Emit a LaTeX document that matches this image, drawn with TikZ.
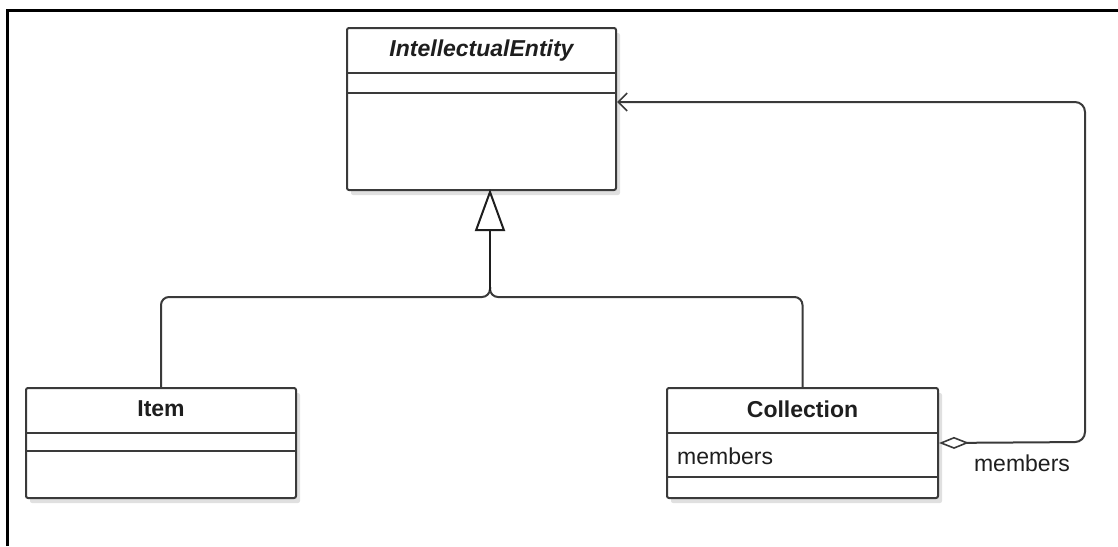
\documentclass[tikz,border=0pt]{standalone}
\usepackage{fontspec}
\setmainfont{Liberation Sans}
\usetikzlibrary{arrows.meta,calc,shadows}

\definecolor{edge}{HTML}{3A3A3A}
\definecolor{ink}{HTML}{1E1E1E}

\tikzset{
  classbox/.style={draw=edge, line width=2pt, fill=white, rounded corners=2pt,
    anchor=north west, inner sep=0pt, minimum width=#1,
    drop shadow={shadow xshift=4pt, shadow yshift=-5pt, opacity=0.12, fill=black}},
  classname/.style={font=\fontsize{23}{27}\selectfont\bfseries, text=ink, inner sep=0pt},
  abstractname/.style={font=\fontsize{23}{27}\selectfont\bfseries\itshape, text=ink, inner sep=0pt},
  attrtext/.style={font=\fontsize{23}{27}\selectfont, text=ink, inner sep=0pt},
  divider/.style={draw=edge, line width=2pt},
  conn/.style={draw=edge, line width=2pt, rounded corners=8pt},
  genline/.style={draw=ink, line width=2.6pt, -{Triangle[open, length=42pt, width=30pt, line width=2pt]}},
  assocline/.style={draw=edge, line width=2pt, rounded corners=10pt,
    {Diamond[open, length=30pt, width=12pt, line width=1.6pt]}-{Straight Barb[length=9pt, width=18pt, line width=1.6pt]}},
}

\begin{document}
\begin{tikzpicture}[x=1pt, y=-1pt]
\useasboundingbox (0,0) rectangle (1118,546);

% page frame (top and left edges)
\draw[line width=3pt, black] (7,546) -- (7,10) -- (1118,10);

% IntellectualEntity (abstract)
\node[classbox=269pt, minimum height=162pt] (ie) at (346,27) {};
\node[abstractname] (ietitle) at ($(ie.north)+(0,24)$) {IntellectualEntity};
\draw[divider] ($(ie.north west)+(0,46)$) -- ($(ie.north east)+(0,46)$);
\draw[divider] ($(ie.north west)+(0,66)$) -- ($(ie.north east)+(0,66)$);

% Item
\node[classbox=270pt, minimum height=110pt] (item) at (25,387) {};
\node[classname] (itemtitle) at ($(item.north)+(0,22)$) {Item};
\draw[divider] ($(item.north west)+(0,46)$) -- ($(item.north east)+(0,46)$);
\draw[divider] ($(item.north west)+(0,64)$) -- ($(item.north east)+(0,64)$);

% Collection
\node[classbox=271pt, minimum height=110pt] (col) at (666,387) {};
\node[classname] (coltitle) at ($(col.north)+(0,22)$) {Collection};
\draw[divider] ($(col.north west)+(0,46)$) -- ($(col.north east)+(0,46)$);
\node[attrtext, anchor=west] (colattr) at ($(col.north west)+(11,69)$) {members};
\draw[divider] ($(col.north west)+(0,90)$) -- ($(col.north east)+(0,90)$);

% generalization: both subclasses join below the superclass
\coordinate (gj) at (490,297);
\coordinate (gtop) at (490,189);
\draw[conn] (item.north) -- (item.north |- gj) -- (gj) -- ($(gj)+(0,-10)$);
\draw[conn] (col.north) -- (col.north |- gj) -- (gj) -- ($(gj)+(0,-10)$);
\draw[genline] ($(gj)+(0,-6)$) -- (gtop);

% aggregation: Collection members -> IntellectualEntity
\coordinate (aturn) at (1085,442);
\coordinate (ieport) at ($(ie.north east)+(0,75)$);
\draw[assocline] (col.east) -- (aturn) -- (aturn |- ieport) -- (ieport);
\node[attrtext, anchor=north] (rolename) at (1022,455) {members};
\end{tikzpicture}
\end{document}
